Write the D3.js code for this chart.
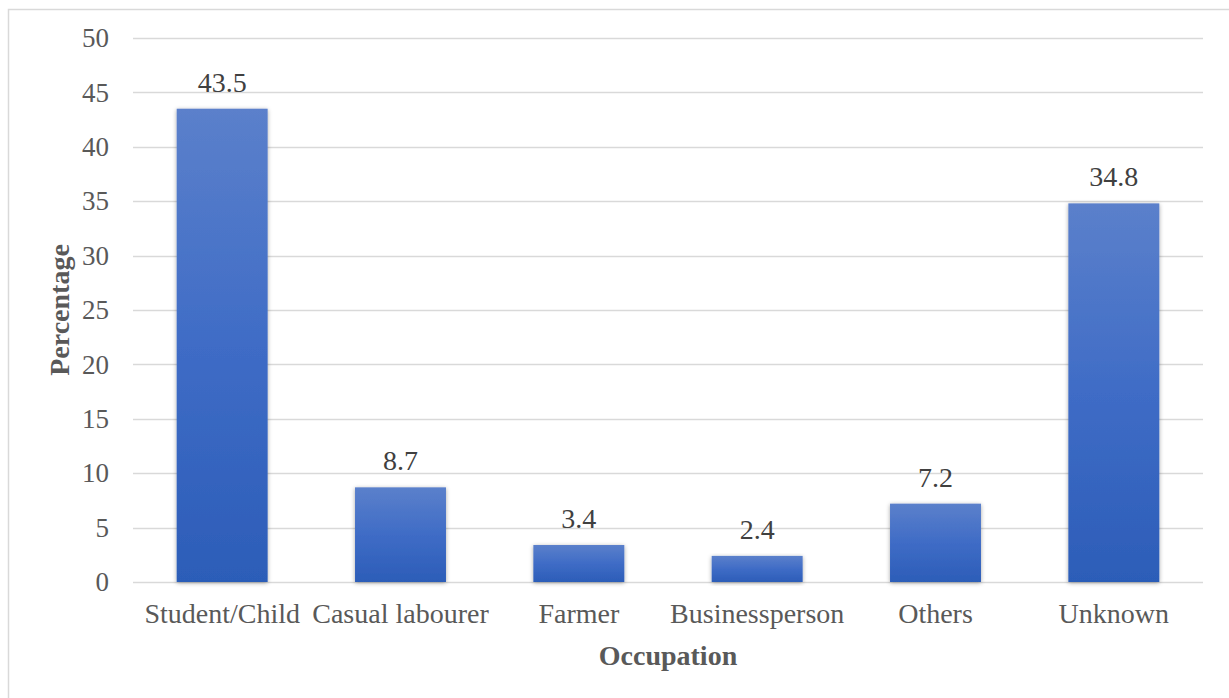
<!DOCTYPE html>
<html>
<head>
<meta charset="utf-8">
<script src="https://cdn.jsdelivr.net/npm/d3@7"></script>
<style>
  html, body { margin: 0; padding: 0; background: #fff; }
  svg { display: block; }
</style>
</head>
<body>
<svg id="chart" width="1229" height="698"></svg>
<script>
// Occupation breakdown (percent)
const categories = ["Student/Child", "Casual labourer", "Farmer", "Businessperson", "Others", "Unknown"];
const percentages = [43.5, 8.7, 3.4, 2.4, 7.2, 34.8];
const yTicks = [0, 5, 10, 15, 20, 25, 30, 35, 40, 45, 50];

const FONT = "'Liberation Serif', 'Times New Roman', serif";
const svg = d3.select("#chart");
const W = 1229, H = 698;
const margin = { left: 133, right: 26, top: 38, bottom: 116 };
const plotW = W - margin.left - margin.right;
const plotH = H - margin.top - margin.bottom;

// outer chart frame
svg.append("rect")
  .attr("x", 8.5).attr("y", 9.5)
  .attr("width", W + 20).attr("height", H + 20)
  .attr("fill", "#fff").attr("stroke", "#d9d9d9").attr("stroke-width", 1.5);

const defs = svg.append("defs");
const grad = defs.append("linearGradient")
  .attr("id", "barGrad").attr("x1", 0).attr("y1", 0).attr("x2", 0).attr("y2", 1);
grad.append("stop").attr("offset", "0%").attr("stop-color", "#5b80cb");
grad.append("stop").attr("offset", "50%").attr("stop-color", "#3f6cc6");
grad.append("stop").attr("offset", "100%").attr("stop-color", "#2c5db8");

const shadow = defs.append("filter").attr("id", "barShadow")
  .attr("x", "-20%").attr("y", "-10%").attr("width", "140%").attr("height", "125%");
shadow.append("feDropShadow")
  .attr("dx", 0).attr("dy", 1).attr("stdDeviation", 2)
  .attr("flood-color", "#000").attr("flood-opacity", 0.35);

const g = svg.append("g").attr("transform", `translate(${margin.left},${margin.top})`);

const x = d3.scaleBand().domain(categories).range([0, plotW]).paddingInner(0.49).paddingOuter(0.245);
const y = d3.scaleLinear().domain([0, 50]).range([plotH, 0]);

// horizontal gridlines
g.append("g").selectAll("line").data(yTicks).join("line")
  .attr("x1", 0).attr("x2", plotW)
  .attr("y1", d => Math.round(y(d)) + 0.5).attr("y2", d => Math.round(y(d)) + 0.5)
  .attr("stroke", "#d9d9d9").attr("stroke-width", 1.5);

// y axis labels
const yAxis = d3.axisLeft(y).tickValues(yTicks).tickSize(0).tickPadding(24);
const yg = g.append("g").call(yAxis);
yg.select(".domain").remove();
yg.selectAll("text")
  .attr("font-family", FONT)
  .attr("font-size", 27).attr("fill", "#595959");

// bars
g.append("g").selectAll("rect").data(categories).join("rect")
  .attr("x", d => x(d))
  .attr("y", (d, i) => y(percentages[i]))
  .attr("width", x.bandwidth())
  .attr("height", (d, i) => y(0) - y(percentages[i]))
  .attr("fill", "url(#barGrad)")
  .attr("filter", "url(#barShadow)");

// value labels
g.append("g").selectAll("text").data(categories).join("text")
  .attr("x", d => x(d) + x.bandwidth() / 2)
  .attr("y", (d, i) => y(percentages[i]) - 17)
  .attr("text-anchor", "middle")
  .attr("font-family", FONT)
  .attr("font-size", 28).attr("fill", "#404040")
  .text((d, i) => percentages[i]);

// x axis labels
const xAxis = d3.axisBottom(x).tickSize(0).tickPadding(21);
const xg = g.append("g").attr("transform", `translate(0,${plotH})`).call(xAxis);
xg.select(".domain").remove();
xg.selectAll("text")
  .attr("font-family", FONT)
  .attr("font-size", 28).attr("fill", "#595959");

// axis titles
svg.append("text")
  .attr("x", margin.left + plotW / 2).attr("y", 665)
  .attr("text-anchor", "middle")
  .attr("font-family", FONT)
  .attr("font-weight", "bold").attr("font-size", 28).attr("fill", "#595959")
  .text("Occupation");

svg.append("text")
  .attr("transform", `translate(69,${margin.top + plotH / 2}) rotate(-90)`)
  .attr("text-anchor", "middle")
  .attr("font-family", FONT)
  .attr("font-weight", "bold").attr("font-size", 28).attr("fill", "#595959")
  .text("Percentage");
</script>
</body>
</html>
